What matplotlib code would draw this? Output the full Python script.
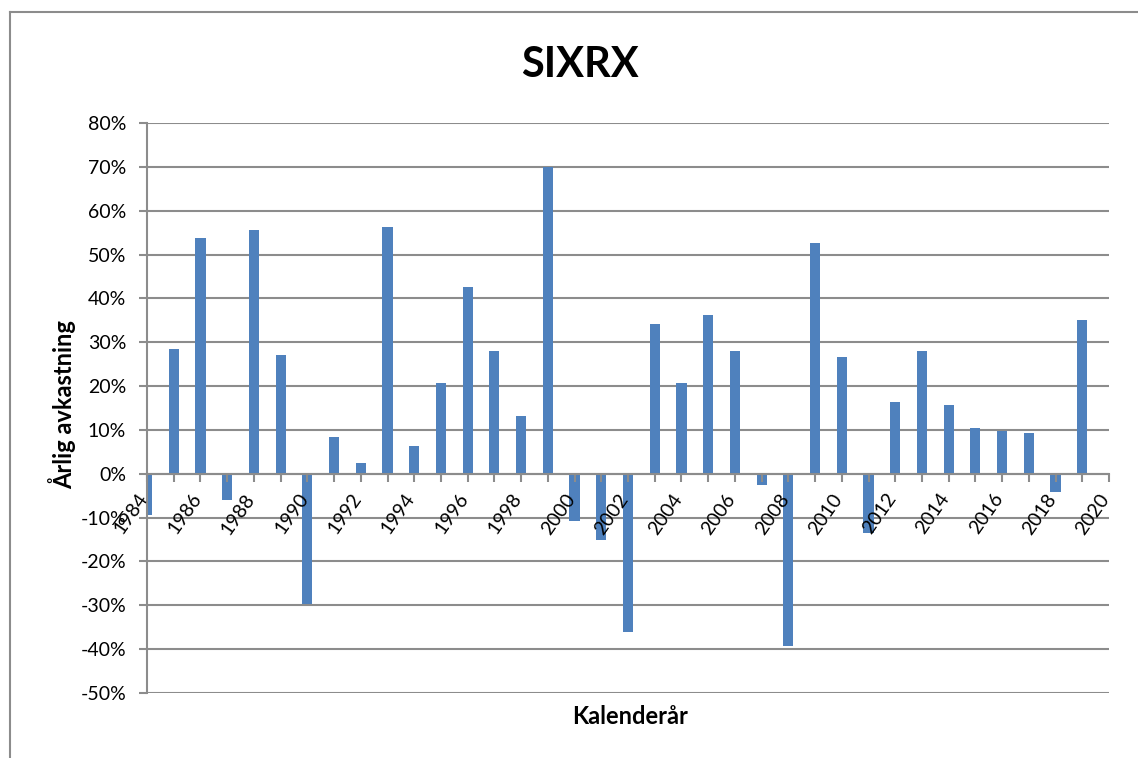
import numpy as np
import matplotlib.pyplot as plt
from matplotlib.lines import Line2D
from matplotlib.ticker import FuncFormatter
import matplotlib.transforms as mtransforms

plt.rcParams['font.family'] = ['Lato', 'DejaVu Sans']

# ----------------------------------------------------------------------------
# data (annual return, %)
years = list(range(1984, 2020))
returns = [-9.5, 28.5, 53.8, -5.9, 55.6, 27.1, -29.6, 8.4, 2.5, 56.3,
           6.4, 20.7, 42.6, 28.0, 13.2, 69.9, -10.7, -15.0, -36.0, 34.2,
           20.7, 36.2, 28.0, -2.5, -39.2, 52.6, 26.7, -13.4, 16.4, 28.0,
           15.7, 10.5, 9.8, 9.3, -4.1, 35.1]
label_years = list(range(1984, 2021, 2))
# ----------------------------------------------------------------------------

W, H = 1138, 758
grey = '#8c8c8c'
blue = '#4F81BD'

fig = plt.figure(figsize=(W / 100, H / 100), dpi=100)
ax = fig.add_axes([147 / W, 1 - 693 / H, (1109 - 147) / W, (693 - 123) / H])

ax.set_xlim(1984, 2020)
ax.set_ylim(-50, 80)
yticks = list(range(-50, 81, 10))
ax.set_yticks(yticks)
ax.yaxis.set_major_formatter(FuncFormatter(lambda v, p: f'{v:.0f}%'))

# gridlines behind the bars, axis + tick labels above them
ax.set_axisbelow(False)
for yv in yticks:
    ax.axhline(yv, color=grey, linewidth=1.5, zorder=1)
ax.bar(years, returns, width=0.38, color=blue, zorder=2)

for s in ['top', 'right']:
    ax.spines[s].set_visible(False)
ax.spines['left'].set_color(grey)
ax.spines['left'].set_linewidth(1.5)
ax.spines['bottom'].set_color(grey)
ax.spines['bottom'].set_linewidth(1.5)
ax.spines['bottom'].set_position(('data', 0))

ax.set_xticks(list(range(1984, 2021)))
ax.set_xticklabels([str(y) if y in label_years else '' for y in range(1984, 2021)],
                   rotation=55, ha='right', va='top', fontsize=14)
ax.tick_params(axis='x', length=6, width=1.5, color=grey, pad=6)
ax.tick_params(axis='y', length=6, width=1.5, color=grey, labelsize=14, pad=9)

offset = mtransforms.ScaledTranslation(4 / 100, 0, fig.dpi_scale_trans)
for lbl in ax.get_xticklabels():
    lbl.set_transform(lbl.get_transform() + offset)

fig.text(580 / W, 1 - 65 / H, 'SIXRX', ha='center', va='center',
         fontsize=30, fontweight='bold')
fig.text(62 / W, 1 - 405 / H, 'Årlig avkastning', ha='center', va='center',
         rotation=90, fontsize=17, fontweight='bold')
fig.text(630 / W, 1 - 716 / H, 'Kalenderår', ha='center', va='center',
         fontsize=17, fontweight='bold')

# outer chart frame (only left and top edges visible)
fig.add_artist(Line2D([10 / W, 10 / W], [0, 1 - 12 / H], transform=fig.transFigure,
                      color=grey, linewidth=1.5))
fig.add_artist(Line2D([10 / W, 1], [1 - 12 / H, 1 - 12 / H], transform=fig.transFigure,
                      color=grey, linewidth=1.5))

fig.savefig('out.png', dpi=100, facecolor='white')
